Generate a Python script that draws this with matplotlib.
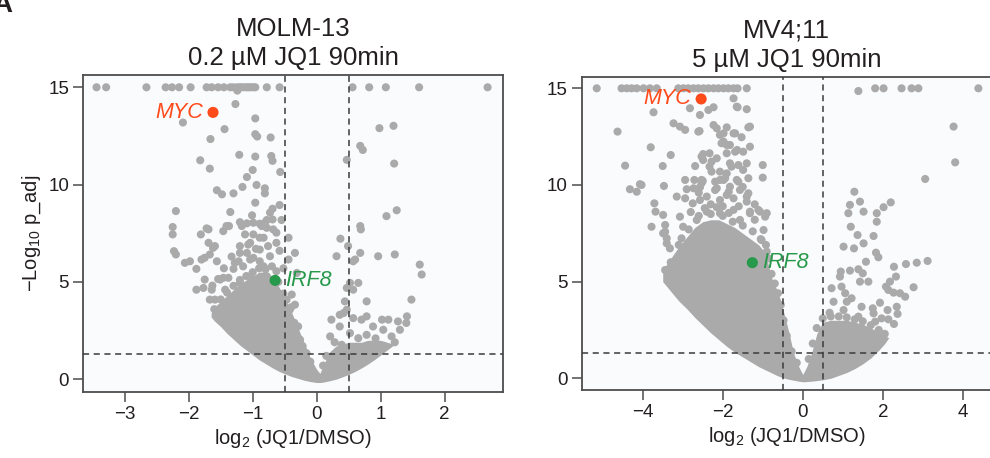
import matplotlib
matplotlib.use("Agg")
import matplotlib.pyplot as plt
import numpy as np

plt.rcParams["font.family"] = ["Liberation Sans", "DejaVu Sans"]
plt.rcParams["mathtext.fontset"] = "custom"
plt.rcParams["mathtext.rm"] = "Liberation Sans"
plt.rcParams["mathtext.it"] = "Liberation Sans:italic"

CAP = 15  # -log10 p_adj values above this are drawn on the cap line

# ---- MOLM-13, 0.2 uM JQ1 90min ----
molm_capped_x = [-3.44, -3.29, -2.66, -2.36, -2.26, -2.15, -1.97, -1.72, -1.64, -1.54,
                 -1.45, -1.35, -1.30, -1.24, -1.20, -1.17, -1.13, -1.09, -1.06, -1.03,
                 -0.99, -0.96, -0.78, -0.58, 0.56, 0.82, 1.08, 1.60, 2.67]
molm_pts = [
    (-1.24, 14.83), (-1.27, 14.14), (-2.09, 13.19), (-1.44, 12.85), (-0.96, 13.40),
    (-0.96, 12.59), (-0.93, 12.47), (-0.72, 12.42), (-1.66, 12.34), (-1.21, 11.53),
    (-0.96, 11.44), (-0.71, 11.47), (-0.69, 11.22), (-1.82, 11.25), (-1.67, 10.82),
    (-1.00, 10.75), (-0.57, 10.65), (-1.09, 10.39), (-1.56, 9.71), (-1.48, 9.50),
    (-1.30, 9.55), (-1.16, 9.88), (-0.94, 9.98), (-0.81, 9.81), (-0.81, 9.55),
    (-0.96, 9.07), (-0.58, 8.95), (-0.69, 8.76), (-2.20, 8.64), (-1.35, 8.59),
    (-1.01, 8.42), (-1.20, 8.07), (-1.09, 8.01), (-0.89, 7.99), (-0.78, 8.18),
    (-0.69, 8.21), (-0.55, 8.18), (-2.25, 7.82), (-1.72, 7.75), (-1.37, 7.87),
    (-0.73, 8.56), (-0.81, 8.04), (-2.25, 7.44), (-1.81, 7.44), (-1.69, 7.70),
    (-1.69, 7.01), (-1.59, 6.84), (-1.46, 7.61), (-2.23, 6.58), (-2.20, 6.41),
    (-2.06, 5.98), (-1.98, 6.06), (-1.88, 5.67), (-1.80, 6.15), (-1.67, 6.41),
    (-1.56, 6.06), (-1.88, 4.60), (-1.77, 4.69), (-1.75, 5.12), (-1.63, 4.81),
    (-1.54, 5.15), (-1.46, 5.21), (-1.30, 5.67), (-1.20, 6.49), (-1.07, 6.92),
    (-0.99, 7.44), (-0.83, 7.27), (-0.78, 7.78), (-0.63, 7.53), (-0.44, 7.27),
    (-0.34, 6.49), (-0.31, 5.46), (-0.39, 4.35), (-0.34, 3.83), (-0.29, 2.71),
    (-1.62, 6.75), (-1.41, 7.87), (-1.12, 7.44), (-1.20, 6.84), (-1.04, 7.01),
    (-0.89, 7.27), (-0.68, 7.70), (-0.89, 6.66), (-0.76, 6.84), (-0.63, 7.01),
    (-0.73, 6.32), (-1.04, 6.15), (-1.22, 6.06), (-0.44, 6.15), (-1.75, 6.24),
    (-1.51, 5.12), (-1.15, 5.80), (-0.83, 5.80), (-1.64, 4.60), (-1.67, 4.09),
    (-0.86, 7.87), (-1.17, 7.87), (-0.99, 8.04),
    # fringe of the dense core
    (-1.38, 5.21), (-1.28, 5.98), (-1.09, 6.49), (-0.99, 6.24), (-0.89, 6.06),
    (-0.70, 5.80), (-0.63, 5.55), (-0.78, 5.29), (-1.04, 5.29), (-1.20, 4.95),
    (-1.43, 4.60), (-1.59, 4.09), (-0.47, 4.09), (-0.42, 3.57), (-0.31, 2.71),
    (-0.26, 2.03), (-0.16, 1.34), (-1.60, 3.60), (-1.50, 4.10), (-1.40, 4.45),
    (-1.30, 4.80), (-1.20, 5.10), (-1.10, 5.30), (-1.00, 5.50), (-0.90, 5.70),
    (-0.80, 5.65), (-0.60, 5.00), (-0.52, 4.40), (-0.40, 3.70), (-0.35, 2.90),
    (-0.22, 1.70), (-0.10, 0.90), (-1.33, 6.30), (-0.95, 6.70), (-0.58, 6.60),
    (-0.52, 5.70), (-1.45, 5.70),
    (0.47, 11.27), (0.68, 11.99), (0.72, 11.78), (0.98, 12.90), (1.20, 13.02),
    (1.21, 11.08), (1.09, 8.38), (1.25, 8.68), (0.68, 7.87), (0.69, 7.70),
    (0.37, 7.22), (0.49, 6.84), (0.68, 6.49), (0.60, 6.15), (0.31, 6.32),
    (0.96, 6.32), (1.22, 6.41), (1.61, 5.89), (1.64, 5.38), (0.52, 4.95),
    (0.65, 4.95), (0.47, 4.69), (0.57, 4.60), (0.78, 4.00), (1.48, 4.09),
    (1.41, 3.23), (0.47, 3.57), (0.36, 3.31), (0.23, 3.06), (0.57, 3.14),
    (0.70, 3.06), (0.78, 3.23), (0.88, 2.71), (1.02, 3.06), (1.12, 3.06),
    (1.27, 2.97), (1.30, 2.54), (0.36, 2.71), (0.52, 2.37), (0.65, 2.11),
    (0.78, 2.28), (1.04, 2.54), (1.17, 2.20), (0.39, 1.77), (0.57, 6.06),
    (0.44, 4.00), (0.42, 3.40), (1.40, 2.89), (0.21, 2.20), (0.15, 1.20),
    (0.28, 1.90), (0.92, 2.10), (1.22, 1.90), (0.10, 0.70),
]
# saturated core of the cloud, thousands of overlapping genes (edges)
molm_core_x = [-1.65, -1.6, -1.5, -1.4, -1.3, -1.2, -1.1, -1.0, -0.9, -0.8, -0.7, -0.6,
               -0.5, -0.4, -0.3, -0.2, -0.1, 0.0, 0.05, 0.1, 0.2, 0.3, 0.4, 0.5, 0.6,
               0.7, 0.8, 0.9, 1.0, 1.1, 1.2]
molm_core_low = [3.2, 3.0, 2.7, 2.35, 2.05, 1.75, 1.5, 1.25, 1.0, 0.8, 0.6, 0.42,
                 0.28, 0.15, 0.05, -0.05, -0.12, -0.17, -0.17, -0.15, -0.08, 0.0, 0.12,
                 0.25, 0.4, 0.58, 0.78, 1.0, 1.25, 1.5, 1.75]
molm_core_high = [3.4, 3.7, 4.0, 4.3, 4.6, 4.9, 5.1, 5.3, 5.5, 5.5, 5.3, 4.8,
                  4.2, 3.5, 2.7, 1.9, 1.1, 0.5, 0.3, 0.7, 1.4, 1.7, 1.8, 1.9, 1.9,
                  1.9, 2.0, 2.0, 2.0, 1.9, 1.8]
molm_myc = (-1.62, 13.71)
molm_irf8 = (-0.65, 5.08)

# ---- MV4;11, 5 uM JQ1 90min ----
mv4_capped_x = [-5.15, -4.53, -4.40, -4.28, -4.15, -3.98, -3.82, -3.65, -3.11, -2.98,
                -2.86, -2.73, -2.61, -2.48, -2.36, -2.23, -2.11, -1.98, -1.86, -1.73,
                -1.63, -1.40, 1.81, 2.02, 2.47, 2.72, 2.89, 4.39]
mv4_pts = [
    (1.39, 14.86), (-3.73, 13.76), (-4.63, 12.76), (-4.44, 11.00), (-3.80, 11.95),
    (-3.30, 11.55), (-3.50, 10.98), (-4.07, 10.04), (-4.32, 9.78), (-4.15, 9.65),
    (-3.47, 9.95), (-3.71, 9.05), (-3.68, 8.62), (-3.49, 8.45), (-1.73, 14.48),
    (-1.63, 14.02), (-1.40, 13.92), (-2.23, 14.02), (-2.82, 13.97), (-2.57, 13.62),
    (-2.58, 12.79), (-3.23, 13.19), (-3.07, 13.02), (-2.94, 12.85), (-2.23, 13.10),
    (-2.15, 12.93), (-1.90, 12.98), (-2.07, 12.59), (-2.03, 12.16), (-1.69, 12.67),
    (-1.53, 12.47), (-1.36, 12.98), (-1.82, 12.07), (-1.64, 11.81), (-1.32, 11.98),
    (-2.49, 11.60), (-2.33, 11.64), (-2.49, 11.29), (-2.15, 11.38), (-2.69, 10.98),
    (-2.33, 10.95), (-2.07, 10.69), (-1.82, 11.12), (-1.61, 11.03), (-1.40, 11.12),
    (-1.00, 11.03), (-1.00, 10.38), (-2.71, 10.26), (-2.50, 10.21), (-2.19, 10.17),
    (-1.94, 10.35), (-1.61, 10.17), (-1.36, 10.35), (-2.90, 9.78), (-2.57, 9.88),
    (-2.15, 9.83), (-1.82, 9.91), (-1.57, 9.74), (-3.15, 9.40), (-2.94, 9.31),
    (-2.57, 9.22), (-2.40, 9.40), (-2.07, 9.22), (-1.73, 9.31), (-1.40, 9.14),
    (-1.07, 8.62), (-0.90, 8.54), (-4.03, 10.00), (-2.94, 10.26), (-2.73, 9.83),
    (-2.53, 10.09), (-2.28, 10.69), (-2.07, 10.26), (-1.90, 10.60), (-1.36, 9.57),
    (-3.78, 7.84), (-3.44, 7.93), (-3.44, 7.58), (-3.40, 7.24), (-3.32, 6.72),
    (-3.03, 7.24), (-2.99, 6.29), (-3.44, 5.60), (-1.32, 8.54), (-1.11, 8.71),
    (-0.98, 7.67), (-1.03, 7.15), (-0.90, 6.55), (-3.40, 6.98), (-3.07, 8.36),
    (-2.99, 7.84), (-2.53, 11.47), (-2.28, 11.21), (-1.90, 11.64), (-1.69, 11.72),
    (-1.49, 11.72), (-1.78, 10.95), (-1.49, 10.78), (-1.98, 10.26), (-1.65, 10.26),
    (-2.53, 10.26), (-2.19, 9.74), (-1.90, 9.48), (-1.40, 9.40), (-1.32, 8.62),
    (-0.94, 8.36), (-2.61, 12.76), (-2.36, 13.88), (-1.65, 14.05), (-1.98, 12.67),
    (-1.73, 12.67), (-1.32, 13.02), (-1.98, 12.24), (-1.90, 12.07), (-3.49, 7.50),
    (-3.23, 5.26), (-3.03, 6.38), (-2.40, 8.62), (-2.07, 8.54), (-1.73, 8.71),
    (-2.65, 8.19), (-1.57, 8.19), (-2.30, 9.00), (-2.00, 8.90), (-1.60, 8.90),
    (-1.20, 9.00), (-2.60, 9.60), (-1.50, 9.90), (-2.75, 9.05), (-1.85, 9.65),
    # fringe of the dense core
    (-3.30, 6.00), (-3.10, 6.90), (-2.85, 7.70), (-2.60, 8.40), (-2.30, 8.50),
    (-2.00, 8.40), (-1.75, 8.10), (-1.50, 7.90), (-1.25, 7.60), (-1.05, 7.20),
    (-0.92, 6.90), (-0.85, 6.20), (-0.78, 5.40), (-0.70, 4.90), (-0.62, 4.40),
    (-0.55, 3.80), (-0.48, 3.00), (-0.40, 2.20), (-0.28, 1.40), (-0.15, 0.80),
    (-2.45, 8.80), (-2.15, 8.85), (-1.85, 8.55), (-1.20, 8.20), (-2.80, 8.60),
    (0.35, 2.60), (0.50, 3.10), (0.70, 3.20), (0.90, 3.20), (1.10, 3.15),
    (1.30, 3.05), (1.50, 2.95), (1.70, 2.75), (1.90, 2.50), (2.05, 2.30),
    (0.15, 1.00), (0.25, 1.80),
    (3.77, 13.02), (3.81, 11.17), (3.06, 10.31), (1.29, 9.65), (1.18, 8.97),
    (1.43, 9.14), (1.52, 8.62), (1.85, 8.54), (2.02, 8.85), (2.20, 9.10),
    (1.14, 8.54), (1.85, 8.10), (1.20, 7.84), (1.37, 7.41), (1.77, 7.36),
    (1.52, 6.98), (1.02, 6.81), (1.28, 6.72), (1.83, 6.50), (1.89, 6.26),
    (1.58, 6.03), (2.58, 5.91), (2.85, 5.98), (3.12, 6.07), (2.28, 5.77),
    (0.95, 5.52), (1.18, 5.57), (1.39, 5.64), (1.50, 5.43), (0.93, 5.26),
    (1.43, 5.00), (1.64, 5.00), (2.33, 5.26), (2.18, 5.00), (2.08, 4.74),
    (2.14, 4.57), (2.77, 4.71), (0.72, 4.66), (0.97, 4.74), (1.06, 4.40),
    (1.22, 4.14), (1.10, 3.96), (0.77, 3.96), (2.27, 4.43), (2.43, 4.40),
    (2.56, 4.22), (1.93, 3.91), (1.47, 3.70), (1.75, 3.62), (2.12, 3.53),
    (2.35, 3.70), (2.37, 3.33), (1.77, 3.36), (1.97, 3.10), (2.14, 3.05),
    (2.28, 2.81), (1.81, 2.93), (0.67, 3.39), (1.02, 3.53), (1.39, 3.19),
    (1.64, 2.41),
]
mv4_core_x = [-3.5, -3.3, -3.1, -2.9, -2.7, -2.5, -2.3, -2.1, -1.9, -1.7, -1.5, -1.3,
              -1.1, -0.95, -0.85, -0.75, -0.65, -0.55, -0.45, -0.35, -0.23, -0.1, 0.0,
              0.1, 0.22, 0.35, 0.5, 0.7, 0.9, 1.1, 1.3, 1.5, 1.7, 1.9, 2.05, 2.15]
mv4_core_low = [5.0, 4.5, 4.0, 3.6, 3.15, 2.75, 2.35, 2.0, 1.65, 1.35, 1.1, 0.85,
                0.6, 0.45, 0.35, 0.25, 0.15, 0.07, 0.0, -0.05, -0.1, -0.15, -0.18,
                -0.17, -0.15, -0.12, -0.08, 0.0, 0.15, 0.3, 0.5, 0.75, 1.05, 1.45, 1.8, 2.1]
mv4_core_high = [5.6, 6.2, 6.8, 7.3, 7.8, 8.1, 8.2, 8.2, 8.0, 7.8, 7.5, 7.2,
                 6.9, 6.5, 5.8, 5.0, 4.6, 4.0, 3.2, 2.4, 1.3, 0.6, 0.2,
                 0.6, 1.3, 2.3, 2.9, 3.0, 3.0, 3.0, 2.9, 2.8, 2.6, 2.4, 2.2, 2.1]
mv4_myc = (-2.54, 14.45)
mv4_irf8 = (-1.26, 5.98)

LFC_CUT = 0.5
P_CUT = -np.log10(0.05)

GREY = "#aaaaaa"
MYC_COLOR = "#ff4a1a"
IRF8_COLOR = "#27994a"
SPINE = "#4d4d4d"
DOT = 34

fig = plt.figure(figsize=(9.9, 4.58), dpi=100)
ax1 = fig.add_axes([0.0838, 0.1448, 0.4243, 0.6914])
ax2 = fig.add_axes([0.5876, 0.1485, 0.4144, 0.6840])


def volcano(ax, capped_x, pts, core_x, core_low, core_high, myc, irf8,
            title, xlim, ylim, xticks):
    ax.set_facecolor("#fafbfd")
    ax.fill_between(core_x, core_low, core_high, color=GREY, lw=0, zorder=1)
    px, py = zip(*pts)
    ax.scatter(px, py, s=DOT, color=GREY, edgecolors="none", zorder=2)
    ax.scatter(capped_x, [CAP] * len(capped_x), s=DOT, color=GREY,
               edgecolors="none", zorder=2)
    for v in (-LFC_CUT, LFC_CUT):
        ax.axvline(v, color="#3a3a3a", lw=1.1, ls=(0, (4, 3)), zorder=3)
    ax.axhline(P_CUT, color="#3a3a3a", lw=1.1, ls=(0, (4, 3)), zorder=3)

    ax.scatter(*myc, s=64, color=MYC_COLOR, edgecolors="none", zorder=4)
    ax.annotate("MYC", xy=myc, xytext=(-7, 0), textcoords="offset points",
                ha="right", va="center", style="italic", fontsize=15.5,
                color=MYC_COLOR, zorder=5)
    ax.scatter(*irf8, s=64, color=IRF8_COLOR, edgecolors="none", zorder=4)
    ax.annotate("IRF8", xy=irf8, xytext=(7, 0), textcoords="offset points",
                ha="left", va="center", style="italic", fontsize=15.5,
                color=IRF8_COLOR, zorder=5)

    ax.set_xlim(*xlim)
    ax.set_ylim(*ylim)
    ax.set_xticks(xticks)
    ax.set_yticks([0, 5, 10, 15])
    ax.tick_params(length=7, width=1.1, color=SPINE, labelsize=13.5,
                   labelcolor="#231f20", pad=3)
    for sp in ax.spines.values():
        sp.set_color(SPINE)
        sp.set_linewidth(1.3)
    ax.set_xlabel(r"log$_2$ (JQ1/DMSO)", fontsize=14.5, color="#231f20", labelpad=3)
    ax.set_title(title, fontsize=18.5, color="#231f20", linespacing=1.3, pad=7)


volcano(ax1, molm_capped_x, molm_pts, molm_core_x, molm_core_low, molm_core_high,
        molm_myc, molm_irf8, "MOLM-13\n0.2 µM JQ1 90min",
        (-3.652, 2.911), (-0.64, 15.63), [-3, -2, -1, 0, 1, 2])
volcano(ax2, mv4_capped_x, mv4_pts, mv4_core_x, mv4_core_low, mv4_core_high,
        mv4_myc, mv4_irf8, "MV4;11\n5 µM JQ1 90min",
        (-5.525, 4.73), (-0.605, 15.60), [-4, -2, 0, 2, 4])

ax1.set_ylabel(r"−Log$_{10}$ p_adj", fontsize=14.5, color="#231f20", labelpad=4)

fig.text(12 / 990, 1 - 12 / 458, "A", fontsize=20, weight="bold",
         ha="right", va="baseline", color="#231f20")

fig.savefig("out.png", dpi=100)
